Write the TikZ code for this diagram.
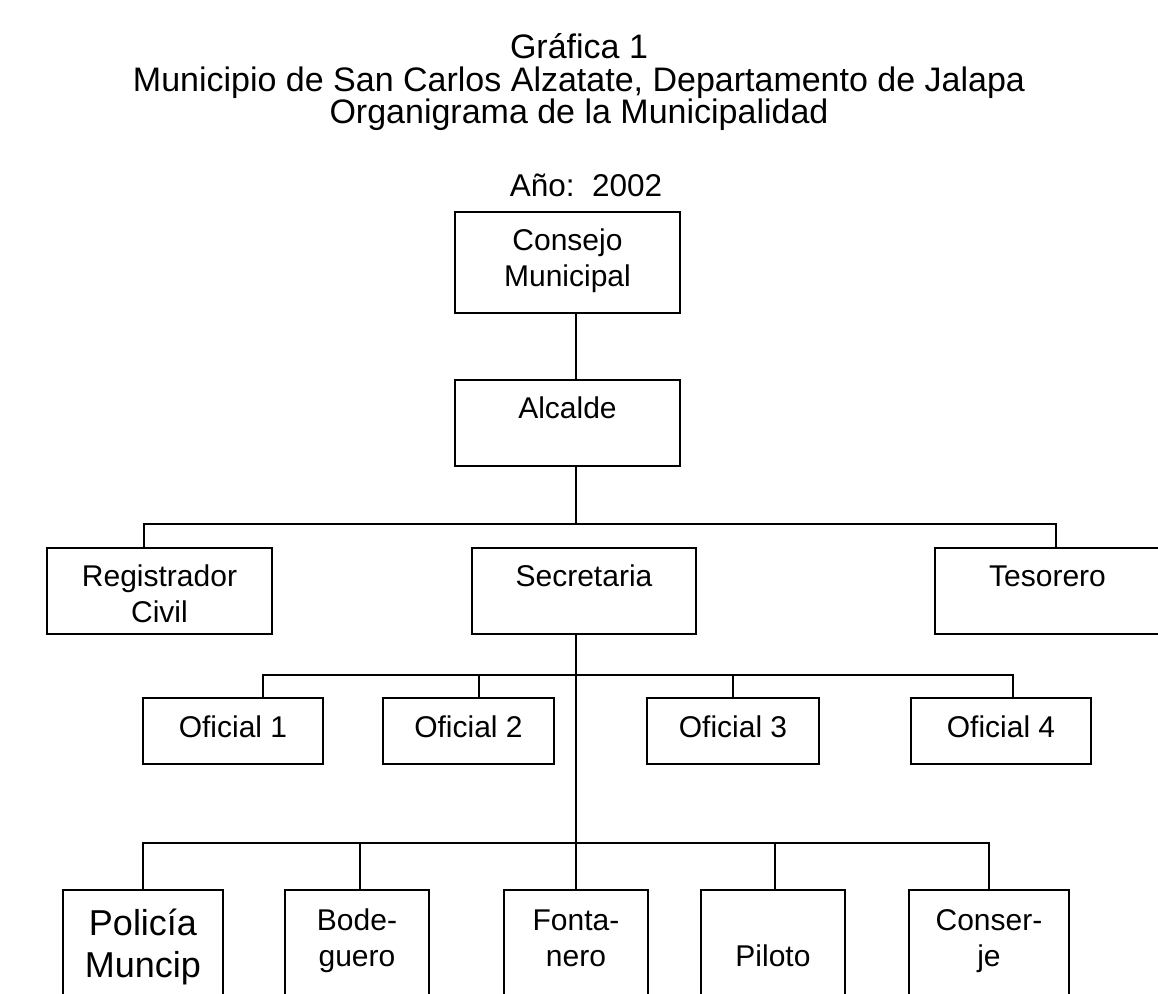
\documentclass[tikz,border=0pt]{standalone}
\usepackage{fontspec}
\setmainfont{Liberation Sans}
\newcommand{\arriba}[1][19.5pt]{\rule{0pt}{#1}}

\begin{document}
\begin{tikzpicture}[x=0.5pt,y=-0.5pt,
  caja/.style={draw,line width=1pt,align=center,inner sep=0pt,
    font=\fontsize{15}{18}\selectfont},
  fondo/.style={execute at end node={\rule[-#1]{0pt}{#1}}},
  linea/.style={line width=0.8pt}]
\useasboundingbox (0,0) rectangle (1158,994);
\clip (0,0) rectangle (1158,994);
\node[align=center,font=\fontsize{17}{16.25}\selectfont] (titulo) at (579,82.5)
  {Gráfica 1\\Municipio de San Carlos Alzatate, Departamento de Jalapa\\Organigrama de la Municipalidad};
\node[font=\fontsize{15.75}{18}\selectfont] (anio) at (586,185) {Año:\ \ 2002};
\node[caja,fondo=13pt,minimum width=112.5pt,minimum height=50.5pt] (consejo) at (567.5,262.5) {\arriba Consejo\\Municipal};
\node[caja,fondo=23.5pt,minimum width=112.5pt,minimum height=43pt] (alcalde) at (567.5,423) {\arriba Alcalde};
\node[caja,fondo=5.5pt,minimum width=112.5pt,minimum height=43pt] (registrador) at (159.5,591) {\arriba Registrador\\Civil};
\node[caja,fondo=23.5pt,minimum width=112pt,minimum height=43pt] (secretaria) at (584,591) {\arriba Secretaria};
\node[caja,fondo=23.5pt,minimum width=112.5pt,minimum height=43pt] (tesorero) at (1047.5,591) {\arriba Tesorero};
\node[caja,fondo=13pt,minimum width=90pt,minimum height=33pt] (oficial1) at (233,731) {\arriba[20pt]Oficial 1};
\node[caja,fondo=13pt,minimum width=85.5pt,minimum height=33pt] (oficial2) at (468.5,731) {\arriba[20pt]Oficial 2};
\node[caja,fondo=13pt,minimum width=86pt,minimum height=33pt] (oficial3) at (733,731) {\arriba[20pt]Oficial 3};
\node[caja,fondo=13pt,minimum width=90pt,minimum height=33pt] (oficial4) at (1001,731) {\arriba[20pt]Oficial 4};
\node[caja,fondo=10.5pt,minimum width=80pt,minimum height=54pt,font=\fontsize{18}{21}\selectfont] (policia) at (143,944) {\arriba[22.5pt]Policía\\Muncip};
\node[caja,fondo=16pt,minimum width=72pt,minimum height=54pt] (bodeguero) at (357,944) {\arriba[20pt]Bode-\\guero};
\node[caja,fondo=16pt,minimum width=72pt,minimum height=54pt] (fontanero) at (576,944) {\arriba[20pt]Fonta-\\nero};
\node[caja,fondo=16pt,minimum width=72pt,minimum height=54pt] (piloto) at (773,944) {\arriba[20pt]\\Piloto};
\node[caja,fondo=16pt,minimum width=80pt,minimum height=54pt] (conserje) at (989,944) {\arriba[20pt]Conser-\\je};
\coordinate (b1) at (576,524);
\coordinate (b2) at (576,675);
\coordinate (b3) at (576,843);
\draw[linea] (b1 |- consejo.south) -- (b1 |- alcalde.north);
\draw[linea] (b1 |- alcalde.south) -- (b1);
\draw[linea] ([xshift=-7.75pt]registrador.north) |- (b1);
\draw[linea] ([xshift=4.25pt]tesorero.north) |- (b1);
\draw[linea] (b1 |- secretaria.south) -- (fontanero.north);
\draw[linea] ([xshift=15pt]oficial1.north) |- (b2);
\draw[linea] ([xshift=5.25pt]oficial2.north) |- (b2);
\draw[linea] (oficial3.north) |- (b2);
\draw[linea] ([xshift=6pt]oficial4.north) |- (b2);
\draw[linea] (policia.north) |- (b3);
\draw[linea] ([xshift=1.5pt]bodeguero.north) |- (b3);
\draw[linea] ([xshift=1pt]piloto.north) |- (b3);
\draw[linea] (conserje.north) |- (b3);
\end{tikzpicture}
\end{document}
